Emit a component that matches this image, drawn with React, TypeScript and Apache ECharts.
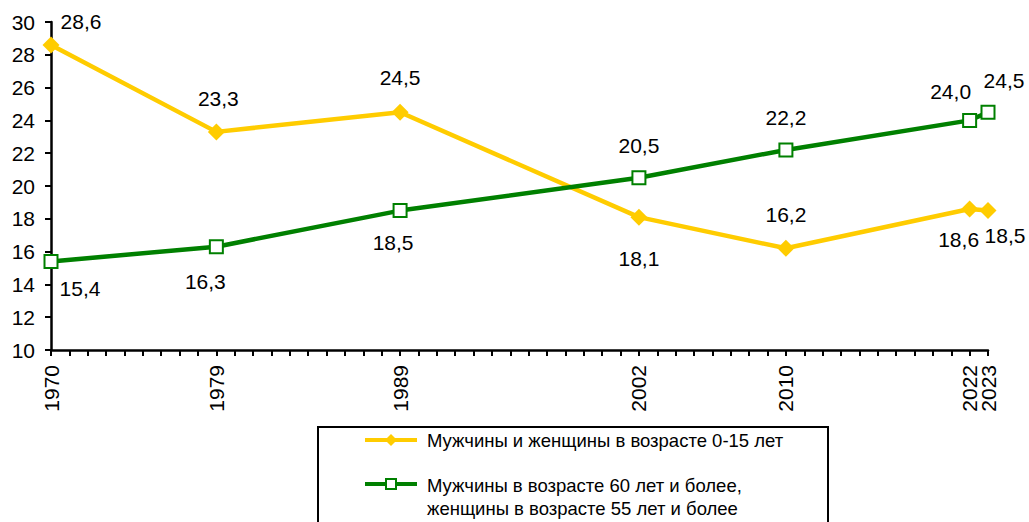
import React, { useEffect, useRef } from 'react';
import * as echarts from 'echarts';

// Census / estimate years shown on the chart
const years = [1970, 1979, 1989, 2002, 2010, 2022, 2023];
// Share of population, %
const children = [28.6, 23.3, 24.5, 18.1, 16.2, 18.6, 18.5];
const elderly = [15.4, 16.3, 18.5, 20.5, 22.2, 24.0, 24.5];
const seriesNames = [
  'Мужчины и женщины в возрасте 0-15 лет',
  'Мужчины в возрасте 60 лет и более,\nженщины в возрасте 55 лет и более',
];
const yMin = 10;
const yMax = 30;
const yInterval = 2;

// axis slots (one tick per slot, as in the original)
const axisYears: number[] = [];
for (let y = 1970; y <= 2010; y++) axisYears.push(y);
for (let y = 2013; y <= 2023; y++) axisYears.push(y);
const categories = axisYears.map(String);

// label placement (style only)
const childOffsets = [[30, -23], [2, -33], [0, -35], [0, 41], [0, -34], [-11, 31], [17, 25]];
const elderOffsets = [[29, 27], [-11, 35], [-7, 32], [0, -32], [0, -32], [-19, -29], [16, -32]];

const FONT = '"Liberation Sans", Arial, sans-serif';
const YELLOW = '#FFCC00';
const GREEN = '#008000';

const fmt = (v: number) => v.toFixed(1).replace('.', ',');

function buildData(values: number[], offsets: number[][]) {
  return categories.map((c) => {
    const i = years.indexOf(Number(c));
    if (i < 0) return null;
    return {
      value: values[i],
      label: { offset: offsets[i] },
    };
  });
}

export default function App() {
  const ref = useRef<HTMLDivElement>(null);
  useEffect(() => {
    if (!ref.current) return;
    const chart = echarts.init(ref.current, null, { renderer: 'svg' });
    const labelBase = {
      show: true,
      position: 'inside',
      color: '#000',
      fontSize: 21,
      fontFamily: FONT,
      formatter: (p: any) => fmt(p.value),
    };
    chart.setOption({
      animation: false,
      backgroundColor: '#fff',
      grid: { left: 51, right: 41, top: 22, bottom: 172, outerBoundsMode: 'none' },
      xAxis: {
        type: 'category',
        data: categories,
        boundaryGap: false,
        axisLine: { lineStyle: { color: '#000', width: 2.5 } },
        axisTick: { show: true, interval: 0, length: 6, lineStyle: { color: '#000', width: 2 } },
        axisLabel: {
          interval: 0,
          rotate: 90,
          margin: 15,
          color: '#000',
          fontSize: 21,
          fontFamily: FONT,
          formatter: (v: string) => (years.indexOf(Number(v)) >= 0 ? v : ''),
        },
        splitLine: { show: false },
      },
      yAxis: {
        type: 'value',
        min: yMin,
        max: yMax,
        interval: yInterval,
        axisLine: { show: true, lineStyle: { color: '#000', width: 2.5 } },
        axisTick: { show: true, length: 6, lineStyle: { color: '#000', width: 2 } },
        axisLabel: { margin: 16, color: '#000', fontSize: 21, fontFamily: FONT },
        splitLine: { show: false },
      },
      series: [
        {
          name: seriesNames[0],
          type: 'line',
          data: buildData(children, childOffsets),
          connectNulls: true,
          symbol: 'diamond',
          symbolSize: 17,
          lineStyle: { color: YELLOW, width: 4.5 },
          itemStyle: { color: YELLOW },
          label: labelBase,
          z: 2,
        },
        {
          name: seriesNames[1],
          type: 'line',
          data: buildData(elderly, elderOffsets),
          connectNulls: true,
          symbol: 'rect',
          symbolSize: 13,
          lineStyle: { color: GREEN, width: 4.5 },
          itemStyle: { color: '#fff', borderColor: GREEN, borderWidth: 2 },
          label: labelBase,
          z: 3,
        },
      ],
      graphic: [
        {
          type: 'rect',
          shape: { x: 318, y: 427, width: 510, height: 110 },
          style: { fill: '#fff', stroke: '#000', lineWidth: 2 },
        },
        {
          type: 'line',
          shape: { x1: 365, y1: 440, x2: 417, y2: 440 },
          style: { stroke: YELLOW, lineWidth: 4 },
        },
        {
          type: 'polygon',
          shape: { points: [[391, 434], [397, 440], [391, 446], [385, 440]] },
          style: { fill: YELLOW },
        },
        {
          type: 'text',
          x: 427,
          y: 440,
          style: {
            text: seriesNames[0],
            fill: '#000',
            font: `18.5px ${FONT}`,
            verticalAlign: 'middle',
          },
        },
        {
          type: 'line',
          shape: { x1: 365, y1: 484, x2: 417, y2: 484 },
          style: { stroke: GREEN, lineWidth: 4 },
        },
        {
          type: 'rect',
          shape: { x: 386, y: 479, width: 10, height: 10 },
          style: { fill: '#fff', stroke: GREEN, lineWidth: 2 },
        },
        {
          type: 'text',
          x: 427,
          y: 474,
          style: {
            text: seriesNames[1],
            fill: '#000',
            font: `18.5px ${FONT}`,
            lineHeight: 23,
            verticalAlign: 'top',
          },
        },
      ],
    });
    return () => chart.dispose();
  }, []);
  return (
    <div
      ref={ref}
      style={{ position: 'fixed', left: 0, top: 0, width: 1029, height: 522, background: '#fff' }}
    />
  );
}
